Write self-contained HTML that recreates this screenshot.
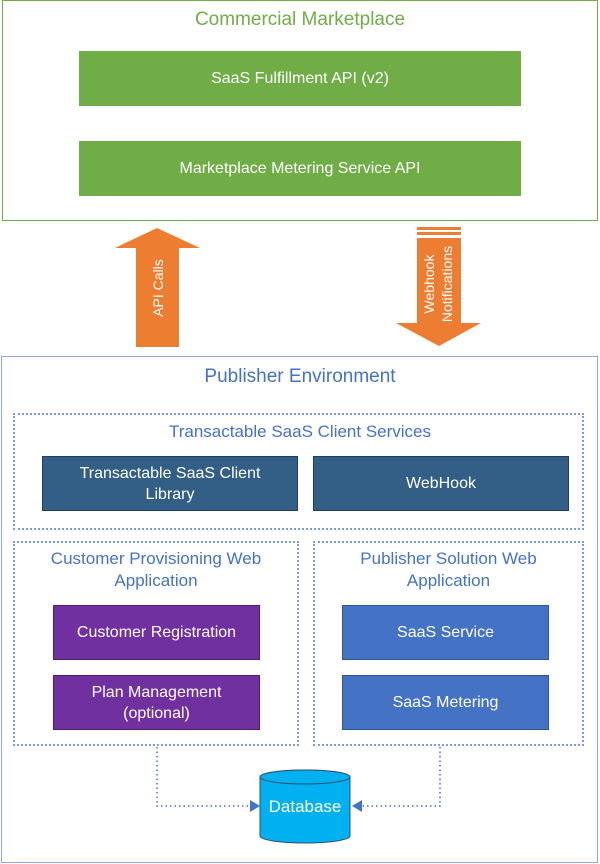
<!DOCTYPE html>
<html><head><style>
body{margin:0;width:600px;height:864px;background:#fff;position:relative;font-family:"Liberation Sans",sans-serif;overflow:hidden}
.a{position:absolute;box-sizing:border-box}
.t{display:flex;align-items:center;justify-content:center;text-align:center;color:#fff;font-size:16px;line-height:21px}
.dot{border:2px dotted #7C9ED8}
.ttl{position:absolute;left:0;right:0;text-align:center;color:#4472C4;font-size:17px;line-height:22px}
</style></head><body>
<div class="a" style="left:2px;top:0;width:596px;height:221px;border:1.5px solid #70AD47"></div>
<div class="ttl" style="top:9px;color:#70AD47;font-size:19px">Commercial Marketplace</div>
<div class="a t" style="left:79px;top:51px;width:442px;height:55px;background:#70AD47">SaaS Fulfillment API (v2)</div>
<div class="a t" style="left:79px;top:141px;width:442px;height:55px;background:#70AD47">Marketplace Metering Service API</div>

<svg class="a" style="left:0;top:0" width="600" height="864">
<polygon points="157,228 200,248 179,248 179,347 136,347 136,248 115,248" fill="#ED7D31"/>
<rect x="417" y="227" width="44" height="3" fill="#ED7D31"/>
<rect x="417" y="232" width="44" height="3" fill="#ED7D31"/>
<polygon points="417,238 461,238 461,323 481,323 439,346 396,323 417,323" fill="#ED7D31"/>
<text transform="translate(163,288) rotate(-90)" text-anchor="middle" fill="#fff" font-size="14" font-family="Liberation Sans">API Calls</text>
<text transform="translate(434,284) rotate(-90)" text-anchor="middle" fill="#fff" font-size="14" font-family="Liberation Sans">Webhook</text>
<text transform="translate(452,284) rotate(-90)" text-anchor="middle" fill="#fff" font-size="14" font-family="Liberation Sans">Notifications</text>
</svg>

<div class="a" style="left:1px;top:356px;width:597px;height:507px;border:1.5px solid #8FAADC"></div>
<div class="ttl" style="top:366px;font-size:19px;left:0;right:0">Publisher Environment</div>

<div class="a dot" style="left:13px;top:413px;width:571px;height:117px"></div>
<div class="ttl" style="top:421px">Transactable SaaS Client Services</div>
<div class="a t" style="left:42px;top:456px;width:256px;height:55px;background:#335F87;border:1px solid #1F3F5E">Transactable SaaS Client<br>Library</div>
<div class="a t" style="left:313px;top:456px;width:256px;height:55px;background:#335F87;border:1px solid #1F3F5E">WebHook</div>

<div class="a dot" style="left:13px;top:541px;width:286px;height:205px"></div>
<div class="ttl" style="top:548px;left:13px;width:286px;right:auto">Customer Provisioning Web<br>Application</div>
<div class="a dot" style="left:313px;top:541px;width:271px;height:205px"></div>
<div class="ttl" style="top:548px;left:313px;width:271px;right:auto">Publisher Solution Web<br>Application</div>

<div class="a t" style="left:53px;top:605px;width:207px;height:55px;background:#7030A0;border:1px solid #4B1F6E">Customer Registration</div>
<div class="a t" style="left:53px;top:675px;width:207px;height:55px;background:#7030A0;border:1px solid #4B1F6E">Plan Management<br>(optional)</div>
<div class="a t" style="left:342px;top:605px;width:207px;height:55px;background:#4472C4;border:1px solid #2F5597">SaaS Service</div>
<div class="a t" style="left:342px;top:675px;width:207px;height:55px;background:#4472C4;border:1px solid #2F5597">SaaS Metering</div>

<svg class="a" style="left:0;top:0" width="600" height="864">
<polyline points="157,747 157,806 250,806" fill="none" stroke="#4472C4" stroke-width="1.5" stroke-dasharray="1.5,3"/>
<polygon points="250,800 260,806 250,812" fill="#4472C4"/>
<polyline points="440,747 440,806 362,806" fill="none" stroke="#4472C4" stroke-width="1.5" stroke-dasharray="1.5,3"/>
<polygon points="362,800 352,806 362,812" fill="#4472C4"/>
<path d="M260,777 L260,836 A45,7 0 0 0 350,836 L350,777 A45,7 0 0 0 260,777 Z" fill="#00B0F0" stroke="#2F4F6F" stroke-width="1"/>
<ellipse cx="305" cy="777" rx="45" ry="7" fill="#00B0F0" stroke="#2F4F6F" stroke-width="1"/>
<text x="305" y="812" text-anchor="middle" fill="#fff" font-size="17" font-family="Liberation Sans">Database</text>
</svg>
</body></html>
